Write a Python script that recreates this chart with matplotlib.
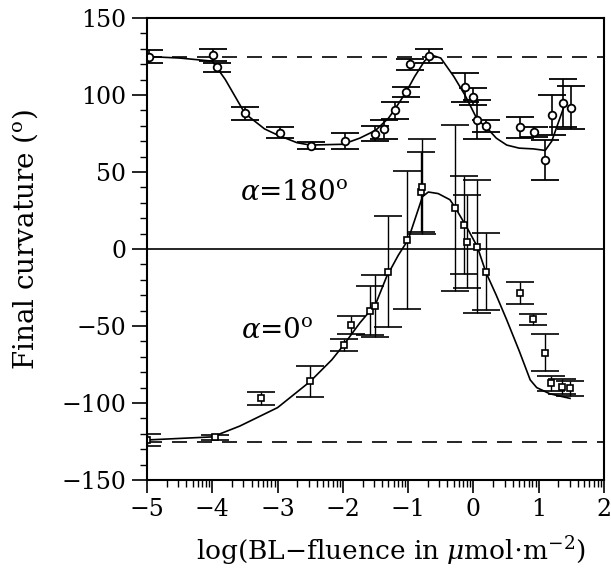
import numpy as np
import matplotlib
matplotlib.use("Agg")
import matplotlib.pyplot as plt
from matplotlib.ticker import FixedLocator

plt.rcParams['font.family'] = ['DejaVu Serif']
plt.rcParams['mathtext.fontset'] = 'dejavuserif'

# alpha = 180 deg data (circles)
x180 = [-4.97, -3.99, -3.93, -3.50, -2.97, -2.49, -1.97, -1.50, -1.37, -1.20, -1.03, -0.97,
        -0.68, -0.13, -0.01, 0.06, 0.20, 0.72, 0.93, 1.10, 1.20, 1.37, 1.50]
y180 = [125, 126, 118, 88, 75.5, 67, 70, 75, 77.7, 90, 102, 120,
        125.3, 105, 99, 84, 80, 79, 76, 58, 87, 94.6, 91.6]
e180 = [4, 4, 3, 4, 3.5, 2.3, 5.3, 4.7, 6, 5.7, 3.3, 3.5,
        4.3, 9.5, 5.4, 12.7, 4, 6.7, 3, 13, 13, 15.7, 14]
# alpha = 180 deg fitted curve
cx180 = [-5.0, -4.5, -4.0, -3.8, -3.5, -3.2, -3.0, -2.7, -2.5, -2.0, -1.74, -1.5, -1.3, -1.2,
         -1.03, -0.9, -0.75, -0.65, -0.5, -0.3, -0.13, 0.06, 0.2, 0.35, 0.51, 0.7, 0.92, 1.1,
         1.2, 1.3, 1.4]
cy180 = [125, 124, 122, 110, 88, 78, 74, 69, 67.5, 68, 72, 77, 85, 91,
         102, 112, 122, 126, 124, 112, 100, 84, 79, 72, 67.5, 65.5, 65, 64,
         70, 82, 94]

# alpha = 0 deg data (squares)
x0 = [-5.0, -3.96, -3.26, -2.51, -1.99, -1.88, -1.58, -1.51, -1.31, -1.01, -0.81, -0.78,
      -0.28, -0.14, -0.10, 0.06, 0.19, 0.72, 0.92, 1.10, 1.19, 1.35, 1.48]
y0 = [-124, -122.3, -97, -86, -62.3, -49.4, -40, -37, -14.7, 5.8, 37, 40.5,
      26.8, 15.6, 4.8, 1.5, -14.7, -28.4, -45.7, -67.3, -87.2, -89.4, -90.5]
e0 = [4, 1.5, 4, 10, 3.7, 6, 15.7, 20, 36, 45, 26, 31,
      54, 32, 30, 43, 25, 7, 3.5, 12, 5, 5, 5]
# alpha = 0 deg fitted curve
cx0 = [-5.0, -4.5, -4.0, -3.58, -3.0, -2.5, -2.17, -2.0, -1.74, -1.5, -1.33, -1.15, -1.0,
       -0.78, -0.69, -0.54, -0.36, -0.28, -0.1, 0.06, 0.19, 0.35, 0.51, 0.7, 0.87, 0.97,
       1.17, 1.48]
cy0 = [-124, -123, -122, -115, -103, -86, -72, -63, -48, -36, -18, -4, 6,
       34, 37, 36, 32, 27, 14, 1.5, -15, -30, -46, -66, -85, -90,
       -94, -97]

ref_levels = [125, -125]
xticks = [-5, -4, -3, -2, -1, 0, 1, 2]
yticks = [-150, -100, -50, 0, 50, 100, 150]

fig = plt.figure(figsize=(6.11, 5.77), dpi=100)
ax = fig.add_axes([0.2406, 0.1681, 0.7479, 0.8007])

for lv in ref_levels:
    ax.axhline(lv, color='black', lw=1.2, dashes=(9, 6))
ax.axhline(0, color='black', lw=1.2)

ax.plot(cx180, cy180, color='black', lw=1.2)
ax.plot(cx0, cy0, color='black', lw=1.2)

ax.errorbar(x180, y180, yerr=e180, fmt='o', ms=5.5, mfc='white', mec='black', mew=1.3,
            ecolor='black', elinewidth=1.2, capsize=10, capthick=1.5)
ax.errorbar(x0, y0, yerr=e0, fmt='s', ms=5, mfc='white', mec='black', mew=1.2,
            ecolor='black', elinewidth=1.0, capsize=10, capthick=1.5)

ax.text(-2.75, 37, r'$\alpha$=180$^{\mathrm{o}}$', fontsize=20, ha='center', va='center')
ax.text(-3.0, -53, r'$\alpha$=0$^{\mathrm{o}}$', fontsize=20, ha='center', va='center')

ax.set_xlim(-5, 2)
ax.set_ylim(-150, 150)
ax.set_xticks(xticks)
ax.set_yticks(yticks)
minor_x = [n + np.log10(k) for n in range(-5, 2) for k in range(2, 10)]
ax.xaxis.set_minor_locator(FixedLocator(minor_x))
ax.yaxis.set_minor_locator(FixedLocator(list(range(-150, 151, 10))))
ax.tick_params(axis='y', which='major', length=11, width=1.2, labelsize=17, pad=4)
ax.tick_params(axis='y', which='minor', length=5, width=1.0)
ax.tick_params(axis='x', which='major', length=9, width=1.2, labelsize=17, pad=4)
ax.tick_params(axis='x', which='minor', length=5, width=1.0)
for sp in ax.spines.values():
    sp.set_linewidth(1.5)

fig.text(25 / 611, 1 - 240 / 577, 'Final curvature ($^{\\mathrm{o}}$)', fontsize=20,
         rotation=90, ha='center', va='center')
fig.text(391 / 611, 1 - 551 / 577, r'log(BL$-$fluence in $\mu$mol$\cdot$m$^{-2}$)',
         fontsize=19, ha='center', va='center')

fig.savefig('out.png', dpi=100)
